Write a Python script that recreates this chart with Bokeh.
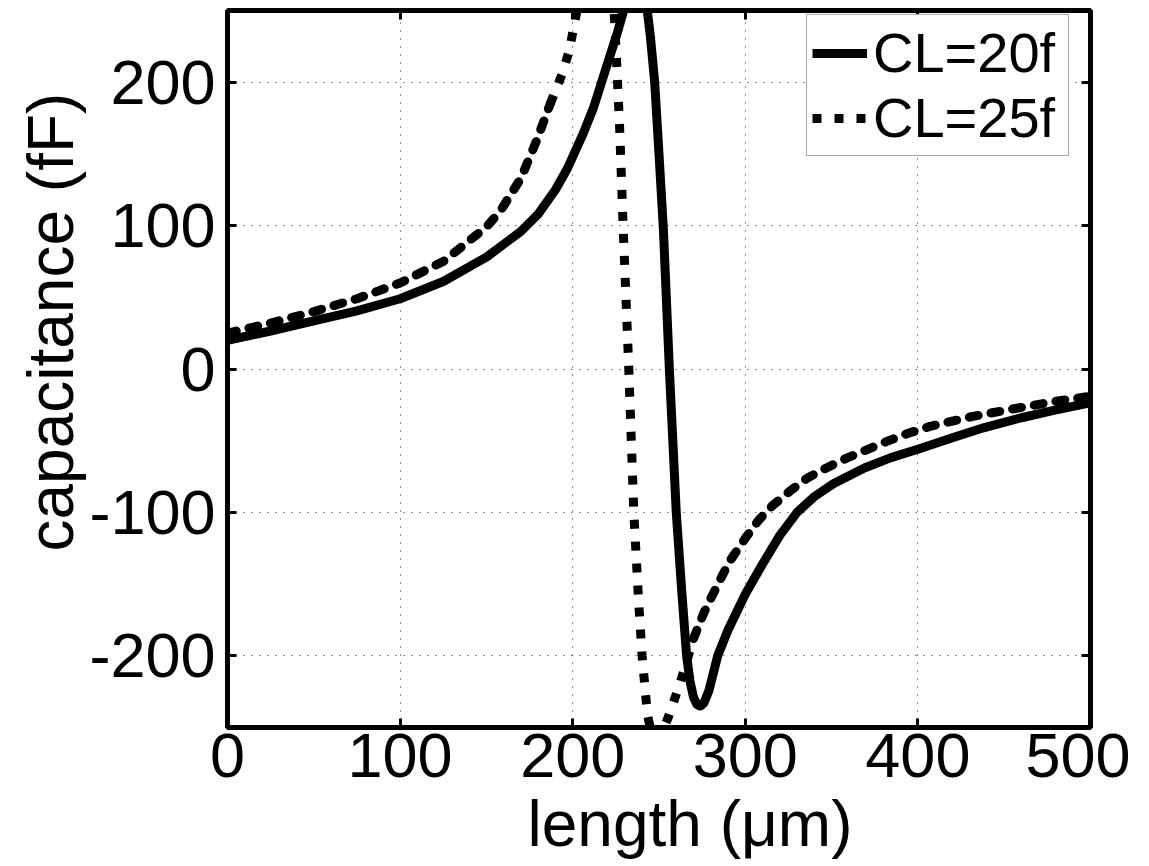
import numpy as np
from bokeh.plotting import figure
from bokeh.models import (Range1d, FixedTicker, LinearAxis, Title, Legend,
                          LegendItem, CustomJSTickFormatter)
from bokeh.embed import file_html
from bokeh.resources import INLINE

# ---------------- data ----------------
x_cl20 = [0, 25, 50, 75, 100, 125, 150, 160, 170, 180,
          190, 197, 206, 212, 217, 222, 226, 230, 234, 237,
          240, 243, 245, 247.5, 250, 252.6, 256, 260, 263, 266,
          268, 270, 272, 274, 276, 279, 284, 290, 296, 300,
          310, 320, 330, 340, 351, 369, 384, 400, 420, 438,
          460, 480, 500]
y_cl20 = [20, 26.5, 33.5, 40.5, 49, 61, 78, 87, 96, 108,
          125, 140, 164, 182, 201, 220, 235, 252, 266, 272,
          268, 252, 232, 200, 150, 96, 0, -100, -152, -200,
          -218, -229, -234, -235, -233, -224, -200, -182, -167, -157,
          -136, -116, -100, -89, -80, -69, -62, -56, -48, -41,
          -34, -28.5, -23.5]

x_cl25 = [0, 25, 50, 75, 100, 125, 150, 158, 170, 179,
          187, 194, 198, 202, 206, 210, 214, 218, 221, 224,
          226, 227.2, 229.2, 232.5, 235.4, 238, 240.2, 243.3, 246, 249,
          252, 255, 258.5, 262.5, 266, 270, 276, 280, 285, 291,
          300, 308, 316, 326, 336, 347, 359, 371, 382, 394,
          407, 432, 459, 480, 500]
y_cl25 = [25, 32, 40, 49, 60, 75, 99, 110, 133, 159,
          185, 206, 222, 247, 272, 290, 297, 288, 270, 250,
          200, 168, 100, 0, -100, -158, -200, -241, -256, -258,
          -252, -244, -232, -218, -204, -188, -170, -160, -148, -134,
          -118, -105, -95, -85, -76, -69, -62, -56, -50.5, -45,
          -40, -33, -27, -22.5, -19]

x_ticks = [0, 100, 200, 300, 400, 500]
y_ticks = [-200, -100, 0, 100, 200]
series_labels = ["CL=20f", "CL=25f"]
x_title = "length (μm)"
y_title = "capacitance (fF)"

FONT = "Liberation Sans"

p = figure(width=1130, height=866,
           x_range=Range1d(0, 500), y_range=Range1d(-250, 250),
           output_backend="svg", toolbar_location=None,
           min_border_left=227, min_border_right=40,
           min_border_top=10, min_border_bottom=20)
p.background_fill_color = "white"
p.border_fill_color = "white"
p.outline_line_color = "black"
p.outline_line_width = 5

# grid
for g, t in ((p.xgrid, x_ticks), (p.ygrid, y_ticks)):
    g.ticker = FixedTicker(ticks=t)
    g.grid_line_color = "#222222"
    g.grid_line_dash = "1 7"
    g.grid_line_width = 1

# main axes
p.xaxis.ticker = FixedTicker(ticks=x_ticks)
p.yaxis.ticker = FixedTicker(ticks=y_ticks)
p.xaxis.major_label_overrides = {t: str(t) for t in x_ticks}
p.yaxis.major_label_overrides = {t: str(t) for t in y_ticks}
for ax in (p.xaxis[0], p.yaxis[0]):
    ax.axis_line_width = 5
    ax.axis_line_color = "black"
    ax.major_tick_in = 9
    ax.major_tick_out = 0
    ax.major_tick_line_width = 3
    ax.minor_tick_line_color = None
    ax.major_label_text_font = FONT
    ax.major_label_text_font_size = "63px"
    ax.major_label_text_color = "black"
p.xaxis.major_label_standoff = 6
p.yaxis.major_label_standoff = 12

# box ticks on top / right
empty = CustomJSTickFormatter(code="return ''")
for loc, t in (("above", x_ticks), ("right", y_ticks)):
    ax = LinearAxis(ticker=FixedTicker(ticks=t), formatter=empty,
                    major_label_text_font_size="0px", major_label_standoff=0,
                    major_tick_in=9, major_tick_out=0, major_tick_line_width=3,
                    minor_tick_line_color=None, axis_line_color=None)
    p.add_layout(ax, loc)

# curves
r20 = p.line(x_cl20, y_cl20, line_width=9, line_color="black", line_join="round")

xa = np.array(x_cl25)
ya = np.array(y_cl25)
m_left = xa <= 187
m_mid = (xa >= 187) & (xa <= 270)
m_right = xa >= 270
r25a = p.line(xa[m_left], ya[m_left], line_width=9, line_color="black",
              line_dash="9 13", line_cap="round", line_join="round")
r25b = p.line(xa[m_mid], ya[m_mid], line_width=9, line_color="black",
              line_dash="9 13", line_cap="butt", line_join="round")
r25c = p.line(xa[m_right], ya[m_right], line_width=9, line_color="black",
              line_dash="9 13", line_cap="round", line_join="round")

legend = Legend(items=[LegendItem(label=series_labels[0], renderers=[r20]),
                       LegendItem(label=series_labels[1], renderers=[r25b])],
                location=(579, 571))
legend.label_text_font = FONT
legend.label_text_font_size = "56px"
legend.label_text_color = "black"
legend.glyph_width = 55
legend.label_standoff = 6
legend.label_width = 190
legend.padding = 5
legend.spacing = 0
legend.margin = 0
legend.border_line_color = "#555555"
legend.border_line_width = 1
legend.background_fill_color = "white"
legend.background_fill_alpha = 1
p.add_layout(legend)

# axis titles as side-panel titles (offset to match the reference)
xt = Title(text=x_title, align="left", offset=300, standoff=13,
           text_font=FONT, text_font_size="64px", text_font_style="normal",
           text_color="black")
p.add_layout(xt, "below")
yt = Title(text=y_title, align="left", offset=176, standoff=0,
           text_font=FONT, text_font_size="64px", text_font_style="normal",
           text_color="black")
p.add_layout(yt, "left")

open("out.html", "w").write(file_html(p, INLINE))
